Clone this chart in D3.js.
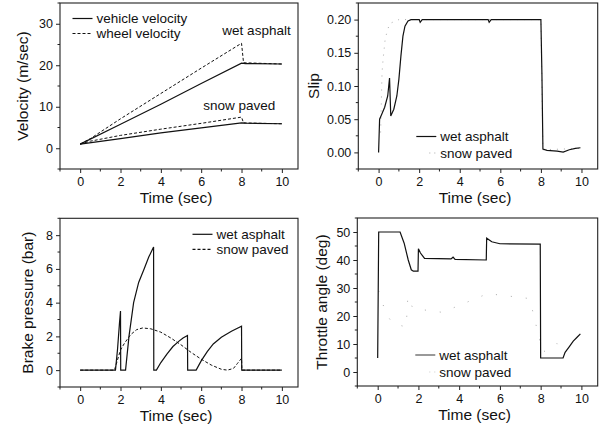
<!DOCTYPE html>
<html>
<head>
<meta charset="utf-8">
<script src="https://cdn.jsdelivr.net/npm/d3@7"></script>
<style>
  body { margin: 0; background: #fff; }
  text { font-family: Arial, "Liberation Sans", sans-serif; fill: #111; }
</style>
</head>
<body>
<svg id="chart" width="603" height="430"></svg>
<script>
// ---- data: [time (sec), value] ----
var timeTicks = [0, 2, 4, 6, 8, 10]
var timeMinor = [-1, 1, 3, 5, 7, 9]

// velocity (m/sec)
var wetVehicleVel = [[0, 1], [2, 5.8], [4, 10.6], [6, 15.6], [8, 20.5], [8.2, 20.4], [10, 20.3]]
var wetWheelVel = [[0, 1], [0.5, 2.3], [2, 7.1], [4, 13.2], [6, 19.3], [8, 25.3], [8.1, 20.6], [10, 20.3]]
var snowVehicleVel = [[0, 1], [2, 2.3], [4, 3.7], [6, 4.9], [8, 6.1], [8.2, 6.05], [10, 5.9]]
var snowWheelVel = [[0, 1], [0.5, 1.7], [2, 3.1], [4, 4.6], [6, 6.0], [8, 7.5], [8.1, 6.1], [10, 5.9]]

// slip
var wetSlip = [[0, 0], [0.05, 0.05], [0.15, 0.057], [0.3, 0.068], [0.45, 0.085], [0.54, 0.112],
  [0.6, 0.055], [0.75, 0.065], [0.9, 0.085], [1.0, 0.11], [1.1, 0.145], [1.2, 0.175], [1.3, 0.19],
  [1.45, 0.198], [1.6, 0.2], [2.0, 0.2], [2.05, 0.196], [2.15, 0.2], [5.4, 0.2], [5.45, 0.196],
  [5.55, 0.2], [8.0, 0.2], [8.05, 0.12], [8.1, 0.005], [8.3, 0.003], [8.8, 0.002], [9.1, 0.0005],
  [9.4, 0.004], [9.7, 0.006], [9.95, 0.007]]
var snowSlip = [[0.1, 0.03], [0.17, 0.12], [0.22, 0.14], [0.33, 0.172], [0.54, 0.194], [1.0, 0.2],
  [8.0, 0.2], [8.1, 0.004], [9.95, 0.006]]

// brake pressure (bar)
var wetBrake = [[0, 0], [1.75, 0], [1.85, 1.2], [1.95, 2.8], [2.0, 3.5], [2.01, 0], [2.25, 0],
  [2.42, 2], [2.65, 4], [2.9, 5.2], [3.17, 6], [3.4, 6.7], [3.64, 7.3], [3.65, 0], [3.78, 0],
  [4.0, 0.45], [4.3, 0.95], [4.6, 1.4], [4.9, 1.72], [5.1, 1.9], [5.32, 2.05], [5.33, 0],
  [5.75, 0], [6.0, 0.55], [6.3, 1.1], [6.6, 1.55], [7.0, 1.95], [7.5, 2.3], [8.0, 2.6],
  [8.01, 0], [10, 0]]
var snowBrake = [[0, 0], [1.7, 0], [1.85, 0.6], [2.0, 1.2], [2.2, 1.6], [2.5, 2.1], [2.8, 2.4],
  [3.1, 2.5], [3.5, 2.45], [4.0, 2.25], [4.5, 1.9], [5.0, 1.5], [5.5, 1.05], [6.0, 0.65],
  [6.5, 0.3], [7.0, 0.05], [7.3, 0], [7.6, 0.1], [7.8, 0.4], [8.0, 0.7], [8.02, 0], [10, 0]]

// throttle angle (deg)
var wetThrottle = [[0, 5], [0.05, 50], [1.1, 50], [1.3, 46], [1.5, 40], [1.65, 36.5], [1.75, 36],
  [1.98, 36], [2.0, 44], [2.1, 42.5], [2.3, 40.6], [3.6, 40.4], [3.7, 41], [3.8, 40.2], [5.33, 40],
  [5.35, 47.8], [5.6, 46.5], [6.0, 45.8], [7.98, 45.7], [8.0, 5], [9.1, 5], [9.2, 7], [9.4, 9],
  [9.6, 11], [9.8, 12.5], [9.95, 13.6]]
var snowThrottle = [[0.05, 29], [0.4, 21], [0.74, 17.3], [1.4, 16.1], [1.48, 26.9], [1.73, 22.7],
  [3.18, 21.3], [5.4, 28], [7.37, 26.3], [7.53, 24.1], [8.1, 7], [8.8, 10.2], [9.2, 6]]

var svg = d3.select('#chart')

// draws one framed panel and returns its scales
function panel(cfg) {
  var x = d3.scaleLinear().domain([-1, 10.8]).range([cfg.left, cfg.right])
  var y = d3.scaleLinear().domain(cfg.yDomain).range([cfg.bottom, cfg.top])
  var g = svg.append('g')

  var xAxis = d3.axisBottom(x).tickValues(timeTicks).tickSize(4).tickPadding(4)
  var yAxis = d3.axisLeft(y).tickValues(cfg.yTicks).tickSize(4).tickPadding(3)
    .tickFormat(cfg.yFormat || d3.format('d'))

  var gx = g.append('g').attr('transform', 'translate(0,' + cfg.bottom + ')').call(xAxis)
  var gy = g.append('g').attr('transform', 'translate(' + cfg.left + ',0)').call(yAxis)
  gx.select('.domain').remove()
  gy.select('.domain').remove()
  g.selectAll('.tick line').attr('stroke', '#222')
  g.selectAll('.tick text').style('font-size', '12.5px').attr('fill', '#111')

  // minor ticks
  g.selectAll('.xminor').data(timeMinor).enter().append('line')
    .attr('x1', function (d) { return x(d) }).attr('x2', function (d) { return x(d) })
    .attr('y1', cfg.bottom).attr('y2', cfg.bottom + 2.5).attr('stroke', '#222')
  g.selectAll('.yminor').data(cfg.yMinor).enter().append('line')
    .attr('y1', function (d) { return y(d) }).attr('y2', function (d) { return y(d) })
    .attr('x1', cfg.left).attr('x2', cfg.left - 2.5).attr('stroke', '#222')

  // frame
  g.append('rect')
    .attr('x', cfg.left).attr('y', cfg.top)
    .attr('width', cfg.right - cfg.left).attr('height', cfg.bottom - cfg.top)
    .attr('fill', 'none').attr('stroke', '#222').attr('stroke-width', 1.1)

  g.append('text')
    .attr('x', (cfg.left + cfg.right) / 2 - 3).attr('y', cfg.bottom + 33.5)
    .attr('text-anchor', 'middle').style('font-size', '15.5px')
    .text('Time (sec)')
  g.append('text')
    .attr('transform', 'translate(' + (cfg.left - cfg.titleOffset) + ',' + ((cfg.top + cfg.bottom) / 2) + ') rotate(-90)')
    .attr('text-anchor', 'middle').style('font-size', '15.5px')
    .text(cfg.yLabel)

  var line = d3.line().x(function (d) { return x(d[0]) }).y(function (d) { return y(d[1]) })
  cfg.series.forEach(function (s) {
    g.append('path').datum(s.data)
      .attr('d', line)
      .attr('fill', 'none')
      .attr('stroke', s.color || '#111')
      .attr('stroke-width', s.width || 1.2)
      .attr('stroke-dasharray', s.dash || null)
  })

  // legend: rows of [x, y] pixel offsets from the panel's top-left
  ;(cfg.legend || []).forEach(function (l) {
    var lx = cfg.left + l.dx, ly = cfg.top + l.dy
    g.append('line')
      .attr('x1', lx + (l.lineStart || 0)).attr('x2', lx + 20)
      .attr('y1', ly).attr('y2', ly)
      .attr('stroke', l.color || '#111').attr('stroke-width', 1.2)
      .attr('stroke-dasharray', l.dash || null)
    g.append('text')
      .attr('x', lx + 24).attr('y', ly + 4.5)
      .style('font-size', '13.5px')
      .text(l.label)
  })

  return { x: x, y: y, g: g }
}

var dashed = '3,2'
var faint = '1,4'
var sparse = '1,14'

var p1 = panel({
  left: 60, right: 298, top: 3, bottom: 169,
  yDomain: [-5, 35], yTicks: [0, 10, 20, 30], yMinor: [-5, 5, 15, 25, 35],
  yLabel: 'Velocity (m/sec)', titleOffset: 32,
  series: [
    { data: wetWheelVel, dash: dashed, width: 1 },
    { data: snowWheelVel, dash: dashed, width: 1 },
    { data: wetVehicleVel },
    { data: snowVehicleVel }
  ],
  legend: [
    { dx: 12.5, dy: 15.5, label: 'vehicle velocity' },
    { dx: 12.5, dy: 30.5, label: 'wheel velocity', dash: dashed }
  ]
})
p1.g.append('text').attr('x', p1.x(7.05)).attr('y', p1.y(27.2)).style('font-size', '13.5px').text('wet asphalt')
p1.g.append('text').attr('x', p1.x(6.1)).attr('y', p1.y(9.2)).style('font-size', '13.5px').text('snow paved')

panel({
  left: 358.3, right: 597.7, top: 3, bottom: 169,
  yDomain: [-0.025, 0.225], yTicks: [0, 0.05, 0.10, 0.15, 0.20],
  yMinor: [-0.025, 0.025, 0.075, 0.125, 0.175, 0.225], yFormat: d3.format('.2f'),
  yLabel: 'Slip', titleOffset: 39,
  series: [
    { data: snowSlip, dash: '1,6', color: '#aaa', width: 1 },
    { data: wetSlip }
  ],
  legend: [
    { dx: 58, dy: 133.5, label: 'wet asphalt' },
    { dx: 58, dy: 150, label: 'snow paved', dash: faint, color: '#aaa', lineStart: 13 }
  ]
})

panel({
  left: 60, right: 298, top: 218.3, bottom: 387,
  yDomain: [-1, 9], yTicks: [0, 2, 4, 6, 8], yMinor: [-1, 1, 3, 5, 7, 9],
  yLabel: 'Brake pressure (bar)', titleOffset: 27,
  series: [
    { data: snowBrake, dash: dashed, width: 1 },
    { data: wetBrake }
  ],
  legend: [
    { dx: 132.5, dy: 16, label: 'wet asphalt' },
    { dx: 132.5, dy: 31, label: 'snow paved', dash: dashed }
  ]
})

panel({
  left: 357.3, right: 597.7, top: 218, bottom: 386,
  yDomain: [-5, 55], yTicks: [0, 10, 20, 30, 40, 50], yMinor: [-5, 5, 15, 25, 35, 45, 55],
  yLabel: 'Throttle angle (deg)', titleOffset: 30,
  series: [
    { data: snowThrottle, dash: sparse, color: '#aaa', width: 1 },
    { data: wetThrottle }
  ],
  legend: [
    { dx: 58, dy: 137, label: 'wet asphalt', color: '#555' },
    { dx: 58, dy: 154, label: 'snow paved', dash: faint, color: '#ccc', lineStart: 14 }
  ]
})
</script>
</body>
</html>
